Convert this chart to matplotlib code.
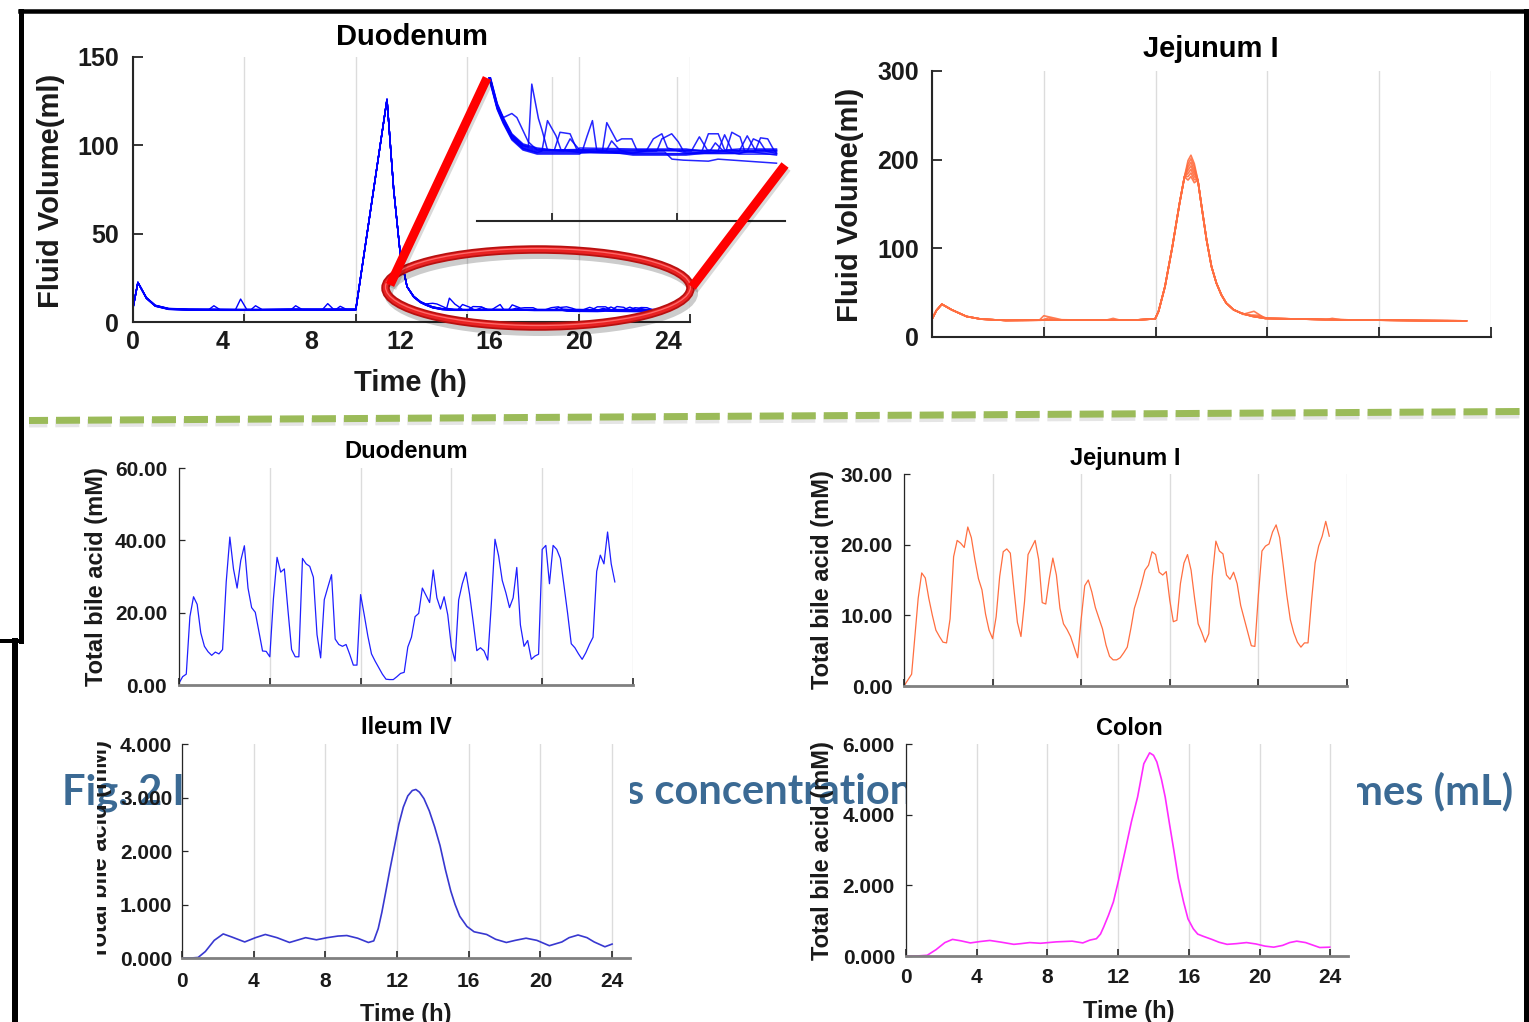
import numpy as np
import matplotlib
matplotlib.use('Agg')
import matplotlib.pyplot as plt
from matplotlib.patches import Ellipse
from matplotlib.transforms import Bbox

W, H = 1529, 1022
DPI = 100
plt.rcParams['font.family'] = ['Liberation Sans', 'DejaVu Sans']
plt.rcParams['font.weight'] = 'bold'

# ------------------------------------------------------------------ data
# Duodenum fluid volume (ml): shared profile of the replicates
duo_vol_t = [0.0, 0.22, 0.6, 1.0, 1.6, 2.5, 4.0, 5.5, 7.0, 8.5, 10.0, 11.4, 11.7, 12.0,
             12.3, 12.6, 12.9, 13.13, 13.45, 13.87, 14.4, 16.0, 18.0, 20.0, 22.0, 23.4]
duo_vol_v = [8.0, 22.4, 13.6, 9.2, 7.4, 7.0, 6.9, 6.9, 7.0, 7.0, 7.0, 126.0, 75.0, 38.0,
             20.0, 14.3, 11.3, 9.9, 8.3, 7.3, 6.9, 6.9, 6.8, 6.8, 6.8, 6.8]
# per-replicate level offsets of the flat parts
duo_vol_shift = [0.0, 0.15, -0.15, 0.3, -0.3, 0.1, -0.1, 0.0, 0.2, -0.2]
# per-replicate excursions (t, ml)
duo_vol_bumps = [
    [[(13.13, 10.2), (13.45, 10.6), (13.64, 10.2), (14.07, 7.8), (14.4, 7.0)],
     [(18.9, 6.9), (19.09, 8.1), (19.46, 8.6), (19.71, 7.8), (19.9, 6.9)]],
    [[(4.6, 7.0), (4.83, 13.0), (5.1, 7.2)],
     [(14.07, 7.3), (14.2, 13.5), (14.45, 10.1), (14.58, 9.0), (14.79, 7.0)],
     [(21.2, 6.9), (21.45, 8.5), (21.72, 7.0)]],
    [[(3.4, 7.0), (3.63, 9.2), (3.9, 7.0)],
     [(14.58, 6.9), (14.79, 9.9), (15.11, 8.4), (15.3, 7.0)],
     [(22.3, 6.9), (22.53, 8.1), (22.78, 7.8), (23.0, 6.9)]],
    [[(5.3, 7.0), (5.5, 9.2), (5.8, 7.0)],
     [(15.05, 7.0), (15.26, 8.75), (15.64, 8.6), (15.9, 7.0)],
     [(20.6, 6.9), (20.84, 8.6), (21.21, 8.6), (21.45, 7.0)]],
    [[(7.1, 7.0), (7.3, 9.2), (7.6, 7.0)],
     [(16.1, 6.9), (16.27, 8.3), (16.48, 9.9), (16.64, 7.0)],
     [(21.5, 6.9), (21.72, 8.75), (22.03, 8.3), (22.2, 6.9)]],
    [[(8.5, 7.0), (8.74, 10.4), (9.0, 7.2)],
     [(16.85, 6.8), (17.02, 9.7), (17.4, 7.85), (17.58, 8.1), (17.96, 8.1), (18.15, 7.0)],
     [(20.2, 6.9), (20.5, 8.3), (20.8, 7.0)]],
    [[(9.1, 7.0), (9.3, 8.9), (9.6, 7.0)],
     [(18.5, 6.9), (18.77, 8.1), (19.09, 8.6), (19.3, 7.2)],
     [(22.6, 6.9), (22.8, 8.2), (23.07, 8.1), (23.3, 7.0)]],
    [[(19.2, 6.8), (19.47, 6.1), (19.9, 6.0), (20.84, 5.9), (21.2, 6.1), (23.4, 5.7)]],
    [[(15.4, 6.9), (15.64, 8.1), (16.0, 7.0)],
     [(22.0, 6.9), (22.3, 8.4), (22.6, 7.0)]],
    [[(17.0, 6.9), (17.2, 7.9), (17.5, 7.0)],
     [(20.9, 6.9), (21.1, 7.7), (21.4, 6.9)]],
]

# Jejunum I fluid volume (ml)
jej_vol_t = [0.0, 0.2, 0.44, 0.88, 1.54, 2.19, 3.3, 5.0, 7.0, 9.0, 9.98, 10.13, 10.42, 10.75,
             11.07, 11.29, 11.45, 11.58, 11.73, 11.89, 12.06, 12.28, 12.5, 12.72, 12.94, 13.16,
             13.49, 13.82, 14.3, 14.9, 16.4, 18.0, 20.0, 22.0, 23.9]
jej_vol_v = [20.2, 30.0, 37.0, 30.7, 23.2, 20.2, 18.7, 19.0, 19.0, 19.0, 20.5, 28.8, 56.9, 101.9,
             150.6, 180.5, 199.0, 205.0, 195.5, 176.8, 146.8, 109.4, 79.4, 60.7, 47.6, 38.2,
             30.7, 27.0, 23.5, 21.0, 20.3, 19.5, 19.0, 18.5, 18.2]
# per-replicate values at t = 11.45, 11.58, 11.73
jej_vol_peak = [(199.0, 205.0, 195.5), (195.0, 201.0, 192.0), (191.5, 197.0, 188.0),
                (188.0, 193.0, 184.5), (184.5, 189.0, 181.0), (181.0, 185.0, 177.5),
                (177.0, 181.0, 174.0)]
jej_vol_bumps = [
    [[(4.8, 19.0), (5.0, 24.0), (5.8, 19.5)]],
    [[(13.9, 25.5), (14.4, 29.0), (14.9, 21.0)]],
    [[(14.0, 25.0), (14.6, 24.5), (15.0, 21.0)]],
    [[(7.8, 19.1), (8.1, 21.0), (8.4, 19.1)]],
    [[(17.6, 19.5), (17.9, 21.0), (18.3, 19.4)]],
    [],
    [[(4.9, 19.0), (5.2, 21.5), (5.6, 19.2)]],
]

# Total bile acid (mM)
duo_ba = [0.5, 2.3, 3.0, 18.9, 24.4, 22.3, 14.4, 10.7, 9.2, 8.2,
          9.1, 8.6, 9.8, 28.5, 40.9, 32.1, 26.8, 34.4, 38.5, 26.8,
          21.4, 20.1, 14.8, 9.4, 9.3, 7.8, 23.9, 35.3, 31.2, 32.1,
          20.7, 9.8, 7.8, 7.8, 35.0, 33.5, 32.8, 29.8, 13.9, 7.5,
          23.6, 27.1, 30.5, 12.7, 11.2, 10.7, 11.2, 8.5, 5.5, 5.5,
          25.0, 19.4, 13.5, 8.6, 6.6, 4.8, 3.0, 1.6, 1.5, 1.5,
          2.3, 3.2, 3.5, 10.5, 13.2, 18.9, 19.8, 26.8, 24.8, 22.8,
          31.8, 24.1, 21.0, 24.4, 19.4, 10.5, 6.6, 23.5, 28.0, 31.2,
          25.1, 17.5, 9.5, 10.3, 9.4, 6.9, 22.5, 40.3, 35.7, 28.9,
          25.5, 21.4, 24.1, 32.5, 16.6, 10.7, 12.3, 7.1, 8.0, 8.5,
          37.5, 38.6, 28.0, 38.6, 37.5, 35.0, 27.5, 19.8, 11.4, 10.3,
          8.6, 7.1, 8.9, 11.2, 13.2, 31.4, 35.9, 33.5, 42.3, 33.5,
          28.5]
duo_ba_t = np.linspace(0, 24, len(duo_ba))

jej_ba = [0.0, 1.67, 12.4, 16.0, 15.3, 12.4, 10.0, 7.9, 7.0, 6.2,
          6.1, 9.5, 18.3, 20.6, 20.2, 19.6, 22.5, 21.0, 17.9, 15.2,
          13.6, 10.2, 7.9, 6.7, 9.8, 15.5, 19.0, 19.4, 18.8, 13.8,
          9.0, 7.0, 11.9, 18.6, 19.6, 20.6, 17.9, 11.8, 11.6, 15.2,
          18.1, 15.7, 11.0, 8.8, 8.0, 7.0, 5.5, 4.0, 9.5, 14.2,
          15.0, 13.3, 11.1, 9.6, 8.1, 5.8, 4.2, 3.7, 3.7, 4.0,
          4.7, 5.5, 8.1, 11.0, 12.6, 14.4, 16.4, 17.1, 19.0, 18.6,
          16.1, 15.7, 16.2, 12.1, 9.1, 9.3, 14.5, 17.4, 18.6, 16.4,
          12.4, 8.8, 7.6, 6.2, 7.4, 15.5, 20.5, 19.1, 18.7, 15.7,
          15.1, 16.1, 14.5, 11.4, 9.5, 7.6, 5.7, 5.6, 12.9, 19.1,
          19.8, 20.1, 21.8, 22.8, 21.0, 17.1, 12.9, 9.4, 7.5, 6.2,
          5.5, 6.1, 6.1, 12.1, 17.4, 19.8, 21.2, 23.3, 21.2]
jej_ba_t = [0.0, 0.43] + list(np.linspace(0.8, 24.0, len(jej_ba) - 2))

ile_t = [0.0, 0.5, 0.9, 1.3, 1.8, 2.3, 2.8, 3.5, 4.1, 4.65, 5.3, 6.0, 6.5, 6.9, 7.5, 8.1,
         8.7, 9.2, 9.8, 10.4, 10.7, 10.95, 11.15, 11.35, 11.6, 11.86, 12.1, 12.35, 12.6,
         12.85, 13.05, 13.25, 13.5, 13.8, 14.1, 14.4, 14.7, 15.0, 15.24, 15.5, 15.9, 16.3,
         17.0, 17.5, 18.1, 18.6, 19.2, 19.8, 20.5, 21.2, 21.6, 22.1, 22.6, 23.0, 23.6, 24.0]
ile_v = [0.0, 0.0, 0.01, 0.12, 0.33, 0.45, 0.39, 0.30, 0.38, 0.44, 0.38, 0.29, 0.34, 0.38,
         0.34, 0.38, 0.41, 0.42, 0.37, 0.29, 0.32, 0.55, 0.85, 1.2, 1.65, 2.09, 2.5, 2.82,
         3.03, 3.13, 3.15, 3.1, 2.98, 2.75, 2.45, 2.1, 1.65, 1.25, 1.0, 0.78, 0.59, 0.49,
         0.44, 0.35, 0.29, 0.33, 0.37, 0.33, 0.23, 0.30, 0.38, 0.43, 0.38, 0.30, 0.21, 0.26]

col_t = [0.0, 0.6, 1.2, 1.7, 2.2, 2.63, 3.1, 3.64, 4.2, 4.74, 5.4, 6.1, 6.5, 7.0, 7.6, 8.5,
         9.4, 10.0, 10.4, 10.77, 11.0, 11.18, 11.45, 11.73, 12.05, 12.4, 12.75, 13.1, 13.45,
         13.78, 14.0, 14.19, 14.45, 14.66, 14.9, 15.15, 15.4, 15.7, 15.95, 16.25, 16.5, 16.8,
         17.3, 17.7, 18.16, 18.7, 19.26, 19.8, 20.3, 20.8, 21.3, 21.7, 22.1, 22.6, 23.0,
         23.4, 23.97]
col_v = [0.0, 0.0, 0.02, 0.18, 0.38, 0.47, 0.43, 0.37, 0.41, 0.44, 0.39, 0.33, 0.35, 0.38,
         0.36, 0.40, 0.42, 0.37, 0.45, 0.49, 0.62, 0.82, 1.15, 1.53, 2.2, 2.99, 3.8, 4.5, 5.44,
         5.75, 5.68, 5.49, 5.0, 4.5, 3.75, 2.99, 2.2, 1.53, 1.05, 0.77, 0.62, 0.56, 0.47, 0.39,
         0.33, 0.35, 0.38, 0.34, 0.28, 0.25, 0.30, 0.38, 0.42, 0.38, 0.31, 0.24, 0.25]

time_ticks = [0, 4, 8, 12, 16, 20, 24]
grid5 = [0, 5, 10, 15, 20, 25]
vol_duo_ticks = [0, 50, 100, 150]
vol_jej_ticks = [0, 100, 200, 300]
ba_duo_ticks = [0, 20, 40, 60]
ba_jej_ticks = [0, 10, 20, 30]
ba_ile_ticks = [0, 1, 2, 3, 4]
ba_col_ticks = [0, 2, 4, 6]
caption_parts = ["Fig. 2 I", "s concentrations", "mes (mL)"]


def replicate(base_t, base_v, shift, bumps, flat_max=15.0):
    pts = [(t, v + shift if v < flat_max else v) for t, v in zip(base_t, base_v)]
    for b in bumps:
        lo, hi = b[0][0], b[-1][0]
        pts = [p for p in pts if not (lo <= p[0] <= hi)]
        pts.extend(b)
    pts.sort()
    return [p[0] for p in pts], [p[1] for p in pts]


# ------------------------------------------------------------------ figure
fig = plt.figure(figsize=(W / DPI, H / DPI), dpi=DPI)
fig.patch.set_facecolor('white')

AXC = '#262626'
TXT = '#1A1A1A'
GRID = '#DCDCDC'
BLUE = '#0000FF'
ORANGE = '#FF6E40'


def px_axes(x0, y0, x1, y1, **kw):
    return fig.add_axes([x0 / W, 1 - y1 / H, (x1 - x0) / W, (y1 - y0) / H], **kw)


def ftext(x, y, s, **kw):
    return fig.text(x / W, 1 - y / H, s, **kw)


def base_style(ax, xlim, ylim, xcol, xlw, ylw):
    ax.set_xlim(*xlim)
    ax.set_ylim(*ylim)
    ax.spines['top'].set_visible(False)
    ax.spines['right'].set_visible(False)
    ax.spines['left'].set_color(AXC)
    ax.spines['left'].set_linewidth(ylw)
    ax.spines['bottom'].set_color(xcol)
    ax.spines['bottom'].set_linewidth(xlw)
    ax.set_axisbelow(True)


# caption (behind the panels)
CAP = dict(family=['Lato', 'DejaVu Sans'], weight='bold', fontsize=30, color='#3B6A94', zorder=-5)
ftext(62, 804, caption_parts[0], ha='left', va='baseline', **CAP)
ftext(626, 804, caption_parts[1], ha='left', va='baseline', **CAP)
cap_r = ftext(1513, 804, caption_parts[2], ha='right', va='baseline', **CAP)

# ---- top-left: Duodenum fluid volume
ax1 = px_axes(133, 57, 690, 322)
base_style(ax1, (0, 25), (0, 150), AXC, 1.5, 1.5)
for r in range(len(duo_vol_shift)):
    t, v = replicate(duo_vol_t, duo_vol_v, duo_vol_shift[r], duo_vol_bumps[r])
    ax1.plot(t, v, color=BLUE, lw=1.0)
ax1.set_yticks(vol_duo_ticks)
ax1.set_yticklabels([str(v) for v in vol_duo_ticks])
ax1.tick_params(axis='y', direction='in', length=7, width=1.3, color=AXC, pad=10,
                labelsize=18, labelcolor=TXT)
ax1.xaxis.remove_overlapping_locs = False
ax1.set_xticks(grid5)
ax1.set_xticklabels([])
ax1.set_xticks(time_ticks, minor=True)
ax1.set_xticklabels([str(v) for v in time_ticks], minor=True)
ax1.tick_params(axis='x', which='major', direction='in', length=6, width=1.3, color=AXC)
ax1.tick_params(axis='x', which='minor', length=0, pad=6, labelsize=18, labelcolor=TXT)
ax1.grid(True, axis='x', which='major', color=GRID, lw=1)

# inset (zoom of the tail)
axi = px_axes(477, 77, 785, 221, zorder=2)
axi.patch.set_alpha(0)
base_style(axi, (12.14, 23.72), (0, 14.2), AXC, 1.5, 0)
axi.spines['left'].set_visible(False)
for r in range(len(duo_vol_shift)):
    t, v = replicate(duo_vol_t, duo_vol_v, duo_vol_shift[r], duo_vol_bumps[r])
    axi.plot(t, v, color=BLUE, lw=1.1, alpha=0.85)
axi.set_xticks([14.95, 19.65])
axi.set_xticklabels([])
axi.set_yticks([])
axi.tick_params(axis='x', direction='in', length=6, width=1.3, color=AXC)
axi.grid(True, axis='x', color=GRID, lw=1)

# ---- top-right: Jejunum I fluid volume
ax2 = px_axes(932, 71, 1491, 337)
base_style(ax2, (0, 25), (0, 300), AXC, 1.5, 1.5)
ipk = jej_vol_t.index(11.58)
for r in range(len(jej_vol_peak)):
    vals = list(jej_vol_v)
    vals[ipk - 1:ipk + 2] = jej_vol_peak[r]
    t, v = replicate(jej_vol_t, vals, 0.0, jej_vol_bumps[r], flat_max=0)
    ax2.plot(t, v, color=ORANGE, lw=1.2, alpha=0.9)
ax2.set_yticks(vol_jej_ticks)
ax2.set_yticklabels([str(v) for v in vol_jej_ticks])
ax2.tick_params(axis='y', direction='in', length=7, width=1.3, color=AXC, pad=9.5,
                labelsize=18, labelcolor=TXT)
ax2.set_xticks(grid5)
ax2.set_xticklabels([])
ax2.tick_params(axis='x', direction='in', length=7, width=1.3, color=AXC)
ax2.grid(True, axis='x', color=GRID, lw=1)


# ---- bottom panels
def bottom_panel(box, ylim, yticks, fmt, ypad):
    ax = px_axes(*box)
    base_style(ax, (0, 25), ylim, '#808080', 2.0, 0.9)
    ax.set_yticks(yticks)
    ax.set_yticklabels([fmt % v for v in yticks])
    ax.tick_params(axis='y', direction='in', length=4, width=0.9, color=AXC, pad=ypad,
                   labelsize=15, labelcolor=TXT)
    ax.tick_params(axis='x', direction='in', length=5, width=1.2, color=AXC,
                   labelsize=15, labelcolor=TXT)
    return ax


ax3 = bottom_panel((179, 468, 633, 685), (0, 60), ba_duo_ticks, '%.2f', 8.5)
ax3.plot(duo_ba_t, duo_ba, color='#1F1FFF', lw=0.9)
ax3.set_xticks(grid5)
ax3.set_xticklabels([])
ax3.grid(True, axis='x', color=GRID, lw=1)

ax4 = bottom_panel((904, 474, 1347, 686), (0, 30), ba_jej_ticks, '%.2f', 8)
ax4.plot(jej_ba_t, jej_ba, color=ORANGE, lw=0.9)
ax4.set_xticks(grid5)
ax4.set_xticklabels([])
ax4.grid(True, axis='x', color=GRID, lw=1)

ax5 = bottom_panel((182, 744, 630, 958), (0, 4), ba_ile_ticks, '%.3f', 7)
ax5.plot(ile_t, ile_v, color='#3838D0', lw=1.2)
ax5.set_xticks(time_ticks)
ax5.set_xticklabels([str(v) for v in time_ticks])
ax5.tick_params(axis='x', pad=10)
ax5.grid(True, axis='x', color=GRID, lw=1)

ax6 = bottom_panel((906, 744, 1348, 956), (0, 6), ba_col_ticks, '%.3f', 8)
ax6.plot(col_t, col_v, color='#FF2BFF', lw=1.2)
ax6.set_xticks(time_ticks)
ax6.set_xticklabels([str(v) for v in time_ticks])
ax6.tick_params(axis='x', pad=8.5)
ax6.grid(True, axis='x', color=GRID, lw=1)

# ---- texts
T_BIG = dict(fontsize=21, color='black', weight='bold')
T_SM = dict(fontsize=17, color='black', weight='bold')
ftext(412, 45, 'Duodenum', ha='center', va='baseline', **T_BIG)
ftext(1211, 57, 'Jejunum I', ha='center', va='baseline', **T_BIG)
ftext(410, 391, 'Time (h)', ha='center', va='baseline', color=TXT, fontsize=21)
ftext(51, 191, 'Fluid Volume(ml)', rotation=90, ha='center', va='center', color=TXT, fontsize=21)
ftext(850, 205, 'Fluid Volume(ml)', rotation=90, ha='center', va='center', color=TXT, fontsize=21)

ftext(406, 458, 'Duodenum', ha='center', va='baseline', **T_SM)
ftext(1125, 465, 'Jejunum I', ha='center', va='baseline', **T_SM)
ftext(406, 734, 'Ileum IV', ha='center', va='baseline', **T_SM)
ftext(1129, 735, 'Colon', ha='center', va='baseline', **T_SM)
ftext(406, 1021, 'Time (h)', ha='center', va='baseline', color=TXT, fontsize=17)
ftext(1129, 1018, 'Time (h)', ha='center', va='baseline', color=TXT, fontsize=17)

YL = dict(rotation=90, ha='center', va='center', color=TXT, fontsize=17)
ftext(96, 577, 'Total bile acid (mM)', **YL)
ftext(822, 580, 'Total bile acid (mM)', **YL)
ftext(822, 851, 'Total bile acid (mM)', **YL)
t_ile = ftext(101, 850, 'Total bile acid (mM)', **YL)
t_ile.set_clip_box(Bbox.from_extents(97, 0, 400, H))
t_ile.set_clip_on(True)

# ---- overlay decorations (pixel coordinates)
ov = fig.add_axes([0, 0, 1, 1], zorder=50)
ov.set_xlim(0, W)
ov.set_ylim(H, 0)
ov.axis('off')
ov.patch.set_alpha(0)

PT = 0.72  # points per pixel
# green dashed separator with soft shadow
ov.plot([29, 1520], [423.5, 414.5], color='black', alpha=0.10, lw=8 * PT,
        ls=(0.71, (3.0, 1.0)), dash_capstyle='butt')
ov.plot([29, 1520], [420.5, 411.5], color='#9BBB59', lw=7 * PT,
        ls=(0.71, (3.43, 1.14)), dash_capstyle='butt')

# magnifier: connecting lines and ellipse
for (xa, ya, xb, yb) in [(390, 285, 487, 78), (692, 287, 785, 165)]:
    ov.plot([xa + 2, xb + 2], [ya + 3, yb + 3], color='black', alpha=0.15, lw=9 * PT,
            solid_capstyle='butt')
    ov.plot([xa, xb], [ya, yb], color='#FF0000', lw=9 * PT, solid_capstyle='butt')
ov.add_patch(Ellipse((541, 293), 305, 77, fill=False, ec='black', alpha=0.2, lw=9 * PT))
ov.add_patch(Ellipse((538, 288), 305, 77, fill=False, ec='#B81010', lw=8.5 * PT))
ov.add_patch(Ellipse((538, 288), 305, 77, fill=False, ec='#E82222', lw=5 * PT))
ov.add_patch(Ellipse((538, 287), 305, 77, fill=False, ec='#FF6A6A', lw=1.3 * PT))

# outer black frame
FR = dict(color='black', solid_capstyle='projecting')
ov.plot([20, 1526], [11, 11], lw=4.5 * PT, **FR)
ov.plot([1526, 1526], [11, H + 5], lw=5 * PT, **FR)
ov.plot([20.5, 20.5], [11, 641], lw=5 * PT, **FR)
ov.plot([-5, 20], [641.5, 641.5], lw=4 * PT, **FR)
ov.plot([15, 15], [641, H + 5], lw=6 * PT, **FR)

# hide the first stem of the right caption word (covered in the original)
fig.canvas.draw()
bb = cap_r.get_window_extent()
cap_r.set_clip_box(Bbox.from_extents(bb.x0 + 9, 0, W, H))
cap_r.set_clip_on(True)

fig.savefig('out.png', dpi=DPI, facecolor='white')
